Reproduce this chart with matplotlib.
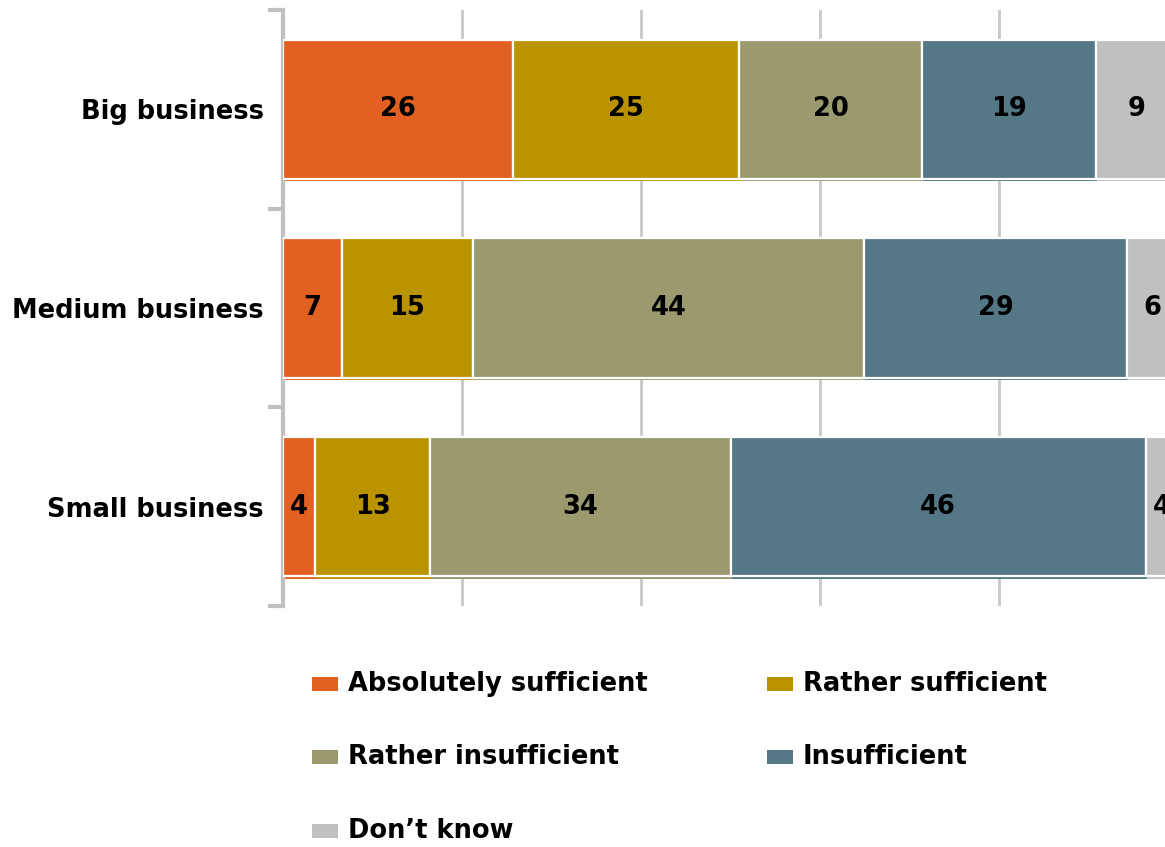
import matplotlib
matplotlib.use("Agg")
import matplotlib.pyplot as plt
from matplotlib.patches import Rectangle

plt.rcParams["font.family"] = ["DejaVu Sans"]

# Survey answers by business size (percent of respondents)
categories = ["Big business", "Medium business", "Small business"]
series_names = ["Absolutely sufficient", "Rather sufficient", "Rather insufficient",
                "Insufficient", "Don\u2019t know"]
absolutely_sufficient = [25.7, 6.6, 3.6]
rather_sufficient = [25.3, 14.6, 12.8]
rather_insufficient = [20.4, 43.7, 33.6]
insufficient = [19.4, 29.4, 46.4]
dont_know = [9.2, 5.7, 3.6]
series_values = [absolutely_sufficient, rather_sufficient, rather_insufficient,
                 insufficient, dont_know]
colors = ["#E26022", "#BA9400", "#9A9A6E", "#557887", "#C0C0C0"]
x_ticks = [0, 20, 40, 60, 80, 100]

W, H = 1165, 847
FS = 18.5
fig = plt.figure(figsize=(W / 100, H / 100), dpi=100)
fig.patch.set_facecolor("white")

# axes spans past the right edge of the canvas, so the last segment is cut off
left_px, top_px, bottom_px, px_per_unit = 283, 10, 606, 8.95
ax = fig.add_axes([left_px / W, 1 - bottom_px / H,
                   100 * px_per_unit / W, (bottom_px - top_px) / H])

ypos = list(range(len(categories)))
bar_h = 0.70
lefts = [0.0] * len(categories)
for name, vals, col in zip(series_names, series_values, colors):
    # thin offset strip gives each segment a subtle bottom shadow line
    ax.barh([y + 0.012 for y in ypos], vals, left=[l + 0.15 for l in lefts],
            height=bar_h, color=col, edgecolor="none", zorder=2)
    ax.barh(ypos, vals, left=lefts, height=bar_h, color=col,
            edgecolor="white", linewidth=1.6, zorder=3, label=name)
    for y, l, v in zip(ypos, lefts, vals):
        ax.text(l + v / 2, y, f"{v:.0f}", ha="center", va="center",
                fontsize=FS, fontweight="bold", color="black", zorder=4)
    lefts = [l + v for l, v in zip(lefts, vals)]

ax.set_xlim(0, 100)
ax.set_ylim(len(categories) - 0.5, -0.5)
ax.set_xticks(x_ticks)
ax.tick_params(axis="x", length=0, labelbottom=False)
ax.grid(axis="x", color="#C8C8C8", linewidth=2, zorder=0)
ax.set_axisbelow(True)

ax.set_yticks([y - 0.5 for y in ypos] + [ypos[-1] + 0.5])
ax.set_yticks(ypos, minor=True)
ax.set_yticklabels([], minor=False)
ax.set_yticklabels(categories, minor=True, fontsize=FS, fontweight="bold")
ax.tick_params(axis="y", which="major", length=11, width=3, color="#C0C0C0")
ax.tick_params(axis="y", which="minor", length=0, pad=14)

for side in ["top", "right", "bottom"]:
    ax.spines[side].set_visible(False)
ax.spines["left"].set_color("#C0C0C0")
ax.spines["left"].set_linewidth(3)

# legend laid out in two columns under the plot
legend_cols_px = [312, 767]
legend_rows_px = [684, 757, 831]
for i, (name, col) in enumerate(zip(series_names, colors)):
    cx = legend_cols_px[i % 2]
    cy = legend_rows_px[i // 2]
    fig.add_artist(Rectangle((cx / W, 1 - (cy + 7) / H), 26 / W, 14 / H,
                             transform=fig.transFigure, facecolor=col,
                             edgecolor="none"))
    fig.text((cx + 36) / W, 1 - cy / H, name, ha="left", va="center",
             fontsize=FS, fontweight="bold", color="black")

fig.savefig("out.png", dpi=100, facecolor="white")
